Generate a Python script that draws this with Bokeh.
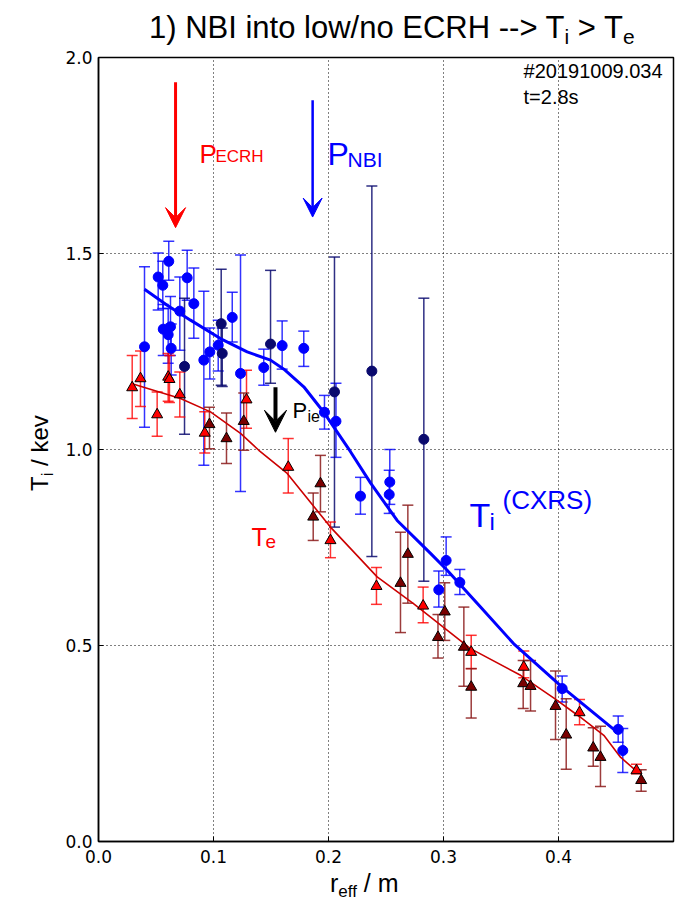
import math
from bokeh.plotting import figure
from bokeh.models import (ColumnDataSource, Whisker, TeeHead, Label, Arrow, VeeHead,
                          Range1d, FixedTicker, PrintfTickFormatter, Div)
from bokeh.layouts import column, row
from bokeh.embed import file_html
from bokeh.resources import INLINE

# ---------------- data ----------------
# Ti (CXRS), bright blue points
ti_r = [0.0400, 0.0519, 0.0559, 0.0611, 0.0771, 0.0829, 0.0707, 0.0563, 0.0626, 0.0606,
        0.0632, 0.0916, 0.0968, 0.1041, 0.1163, 0.1235, 0.1437, 0.1597, 0.1785, 0.1965,
        0.2065, 0.2278, 0.2533, 0.2528, 0.3023, 0.2959, 0.3142, 0.4032, 0.4519, 0.4559]
ti_val = [1.262, 1.440, 1.419, 1.480, 1.438, 1.372, 1.353, 1.307, 1.313, 1.293,
          1.258, 1.228, 1.249, 1.266, 1.337, 1.194, 1.209, 1.265, 1.258, 1.095,
          1.072, 0.881, 0.917, 0.885, 0.717, 0.642, 0.661, 0.390, 0.286, 0.232]
ti_hi = [1.466, 1.501, 1.480, 1.531, 1.508, 1.463, 1.440, 1.370, 1.390, 1.360,
         1.320, 1.404, 1.310, 1.330, 1.401, 1.496, 1.256, 1.328, 1.302, 1.138,
         1.169, 0.929, 1.000, 0.947, 0.777, 0.690, 0.694, 0.422, 0.320, 0.288]
ti_lo = [1.057, 1.356, 1.360, 1.432, 1.381, 1.284, 1.253, 1.240, 1.240, 1.220,
         1.190, 0.960, 1.180, 1.200, 1.274, 0.893, 1.164, 1.205, 1.212, 1.052,
         0.980, 0.835, 0.860, 0.837, 0.679, 0.598, 0.630, 0.356, 0.253, 0.176]

# Ti, dark navy points
tin_r = [0.0748, 0.1067, 0.1076, 0.1496, 0.2052, 0.2377, 0.2829]
tin_val = [1.212, 1.321, 1.245, 1.269, 1.147, 1.200, 1.026]
tin_hi = [1.386, 1.460, 1.310, 1.457, 1.491, 1.672, 1.386]
tin_lo = [1.039, 1.164, 1.161, 1.169, 0.802, 0.727, 0.664]

# Te, bright red triangles
te_r = [0.0293, 0.0365, 0.0510, 0.0606, 0.0617, 0.0707, 0.0924, 0.1287, 0.1650, 0.2017,
        0.2417, 0.2823, 0.3241, 0.3698, 0.4183, 0.4678]
te_val = [1.158, 1.181, 1.089, 1.185, 1.179, 1.140, 1.042, 1.127, 0.955, 0.768,
          0.651, 0.601, 0.483, 0.445, 0.329, 0.181]
te_hi = [1.240, 1.251, 1.147, 1.245, 1.240, 1.198, 1.096, 1.202, 1.028, 0.815,
         0.699, 0.649, 0.526, 0.486, 0.362, 0.197]
te_lo = [1.079, 1.110, 1.034, 1.123, 1.120, 1.083, 0.991, 1.054, 0.889, 0.724,
         0.605, 0.558, 0.441, 0.418, 0.298, 0.173]

# Te, dark red triangles
ted_r = [0.0965, 0.1113, 0.1263, 0.1867, 0.1930, 0.2626, 0.2690, 0.2952, 0.3011, 0.3177,
         0.3241, 0.3693, 0.3757, 0.3974, 0.4067, 0.4302, 0.4365, 0.4719]
ted_val = [1.064, 1.028, 1.072, 0.828, 0.913, 0.659, 0.733, 0.521, 0.586, 0.496,
           0.394, 0.403, 0.396, 0.345, 0.272, 0.239, 0.215, 0.156]
ted_hi = [1.108, 1.093, 1.144, 0.889, 0.985, 0.789, 0.858, 0.579, 0.660, 0.598,
          0.441, 0.462, 0.462, 0.435, 0.364, 0.290, 0.294, 0.183]
ted_lo = [1.002, 0.964, 0.998, 0.768, 0.841, 0.533, 0.608, 0.468, 0.513, 0.396,
          0.315, 0.339, 0.333, 0.260, 0.184, 0.192, 0.140, 0.128]

# fitted profiles
tifit_r = [0.040, 0.0597, 0.080, 0.106, 0.1293, 0.1496, 0.1612, 0.1785, 0.1959, 0.2017,
           0.219, 0.2365, 0.2597, 0.2887, 0.3032, 0.3322, 0.3609, 0.4032, 0.4510]
tifit_v = [1.409, 1.368, 1.330, 1.283, 1.249, 1.228, 1.205, 1.160, 1.095, 1.070,
           0.995, 0.915, 0.819, 0.735, 0.692, 0.598, 0.505, 0.394, 0.279]
tefit_r = [0.0293, 0.0713, 0.0974, 0.1235, 0.1394, 0.1641, 0.2017, 0.2423, 0.2739, 0.3235,
           0.367, 0.397, 0.419, 0.4394, 0.4539, 0.4684]
tefit_v = [1.168, 1.130, 1.096, 1.041, 0.998, 0.939, 0.802, 0.675, 0.607, 0.492,
           0.424, 0.364, 0.317, 0.271, 0.215, 0.178]

xticks = [0.0, 0.1, 0.2, 0.3, 0.4]
yticks = [0.0, 0.5, 1.0, 1.5, 2.0]

# ---------------- layout sizes ----------------
TOP_H = 46      # title strip
LEFT_W = 55     # y-label strip
BOT_H = 31      # x-label strip
FIG_W = 683 - LEFT_W
FIG_H = 902 - TOP_H - BOT_H

p = figure(width=FIG_W, height=FIG_H, output_backend="svg", toolbar_location=None,
           x_range=Range1d(0, 0.5), y_range=Range1d(0, 2.0),
           min_border_left=98 - LEFT_W, min_border_right=10,
           min_border_top=57 - TOP_H, min_border_bottom=FIG_H - (841 - TOP_H))
p.background_fill_color = "white"
p.border_fill_color = "white"
p.outline_line_color = "black"
p.outline_line_width = 1.5

p.xaxis.ticker = FixedTicker(ticks=xticks)
p.yaxis.ticker = FixedTicker(ticks=yticks)
p.xaxis.formatter = PrintfTickFormatter(format="%.1f")
p.yaxis.formatter = PrintfTickFormatter(format="%.1f")
for ax in p.axis:
    ax.major_tick_in = 5
    ax.major_tick_out = 0
    ax.minor_tick_line_color = None
    ax.axis_line_color = "black"
    ax.axis_line_width = 1.5
    ax.major_tick_line_color = "black"
    ax.major_label_text_font = "DejaVu Sans"
    ax.major_label_text_font_size = "17px"
    ax.major_label_text_color = "black"
p.xaxis.major_label_standoff = 8
p.yaxis.major_label_standoff = 6

p.xgrid.ticker = FixedTicker(ticks=xticks)
p.ygrid.ticker = FixedTicker(ticks=yticks)
p.grid.grid_line_color = "black"
p.grid.grid_line_dash = "1 3"
p.grid.grid_line_width = 1
p.grid.grid_line_alpha = 1.0

BLUE = "#0000ff"
NAVY = "#0a0a6e"
RED = "#ff0000"
DRED = "#7a0000"
DRED_BAR = "#8b1a1a"


def errbars(r, v, hi, lo, color, alpha):
    src = ColumnDataSource(dict(x=r, y=v, hi=hi, lo=lo))
    w = Whisker(source=src, base="x", upper="hi", lower="lo", dimension="height",
                line_color=color, line_width=1.5, line_alpha=alpha,
                upper_head=TeeHead(size=11, line_color=color, line_width=1.5, line_alpha=alpha),
                lower_head=TeeHead(size=11, line_color=color, line_width=1.5, line_alpha=alpha))
    p.add_layout(w)
    return src


s_ti = errbars(ti_r, ti_val, ti_hi, ti_lo, BLUE, 0.8)
s_tin = errbars(tin_r, tin_val, tin_hi, tin_lo, NAVY, 0.85)
s_te = errbars(te_r, te_val, te_hi, te_lo, RED, 0.8)
s_ted = errbars(ted_r, ted_val, ted_hi, ted_lo, DRED_BAR, 0.85)

p.line(tefit_r, tefit_v, line_color="#cc0000", line_width=1.6)
p.line(tifit_r, tifit_v, line_color=BLUE, line_width=3)

p.scatter("x", "y", source=s_ti, marker="circle", size=10, fill_color=BLUE, line_color=BLUE)
p.scatter("x", "y", source=s_tin, marker="circle", size=10, fill_color=NAVY, line_color=NAVY)
p.scatter("x", "y", source=s_te, marker="triangle", size=11, fill_color=RED, line_color="black", line_width=1)
p.scatter("x", "y", source=s_ted, marker="triangle", size=11, fill_color=DRED, line_color="black", line_width=1)

# arrows
p.add_layout(Arrow(x_start=0.067, y_start=1.937, x_end=0.067, y_end=1.566,
                   line_color=RED, line_width=3,
                   end=VeeHead(size=20, fill_color=RED, line_color=RED, line_width=1)))
p.add_layout(Arrow(x_start=0.1862, y_start=1.891, x_end=0.1862, y_end=1.593,
                   line_color=BLUE, line_width=2.5,
                   end=VeeHead(size=19, fill_color=BLUE, line_color=BLUE, line_width=1)))
p.add_layout(Arrow(x_start=0.1539, y_start=1.159, x_end=0.1539, y_end=1.044,
                   line_color="black", line_width=4,
                   end=VeeHead(size=22, fill_color="black", line_color="black", line_width=1)))


def lab(text, x, y, size, color="black", font="Liberation Sans", align="left",
        baseline="alphabetic"):
    p.add_layout(Label(x=x, y=y, text=text, text_font=font, text_font_size=size,
                       text_color=color, text_align=align, text_baseline=baseline))


# shot info
lab("#20191009.034", 0.3696, 1.994, "20px", baseline="top")
lab("t=2.8s", 0.3696, 1.928, "20px", baseline="top")

# power deposition labels
lab("P", 0.0878, 1.7535, "26px", color=RED)
lab("ECRH", 0.1017, 1.7463, "17px", color=RED)
lab("P", 0.1991, 1.7530, "32px", color=BLUE)
lab("NBI", 0.2165, 1.7410, "21px", color=BLUE)
lab("P", 0.1687, 1.1000, "22px")
lab("ie", 0.1817, 1.0850, "16px")

# profile labels
lab("T", 0.3226, 0.8336, "34px", color=BLUE)
lab("i", 0.3400, 0.8158, "24px", color=BLUE)
lab("(CXRS)", 0.3513, 0.8700, "26px", color=BLUE)
lab("T", 0.1330, 0.7775, "25px", color=RED)
lab("e", 0.1452, 0.7647, "19px", color=RED)

# ---------------- text strips (real HTML text) ----------------
SUB = "font-size:{}px;vertical-align:-{}px;line-height:0"
title_html = (
    '<div style="position:relative;width:683px;height:%dpx;">'
    '<div style="position:absolute;left:149px;top:12px;font-family:\'Liberation Sans\';'
    'font-size:31px;line-height:1;white-space:nowrap;color:black;">'
    '1) NBI into low/no ECRH --&gt; T<sub style="%s">i</sub> &gt; T<sub style="%s">e</sub>'
    '</div></div>' % (TOP_H, SUB.format(21, 6), SUB.format(21, 6)))
ylab_html = (
    '<div style="position:relative;width:%dpx;height:%dpx;">'
    '<div style="position:absolute;left:28px;top:%dpx;transform-origin:0 0;'
    'transform:rotate(-90deg);font-family:\'Liberation Sans\';font-size:24px;line-height:1;'
    'white-space:nowrap;color:black;">T<sub style="%s">i</sub> / kev</div></div>'
    % (LEFT_W, FIG_H, 491 - TOP_H, SUB.format(17, 5)))
xlab_html = (
    '<div style="position:relative;width:683px;height:%dpx;">'
    '<div style="position:absolute;left:330px;top:0px;font-family:\'Liberation Sans\';'
    'font-size:25px;line-height:1;white-space:nowrap;color:black;">'
    'r<sub style="%s">eff</sub> / m</div></div>' % (BOT_H, SUB.format(17, 5)))

title_div = Div(text=title_html, width=683, height=TOP_H, margin=0)
ylab_div = Div(text=ylab_html, width=LEFT_W, height=FIG_H, margin=0)
xlab_div = Div(text=xlab_html, width=683, height=BOT_H, margin=0)

page = column(title_div, row(ylab_div, p, spacing=0, margin=0), xlab_div, spacing=0, margin=0)

open("out.html", "w").write(file_html(page, INLINE))
